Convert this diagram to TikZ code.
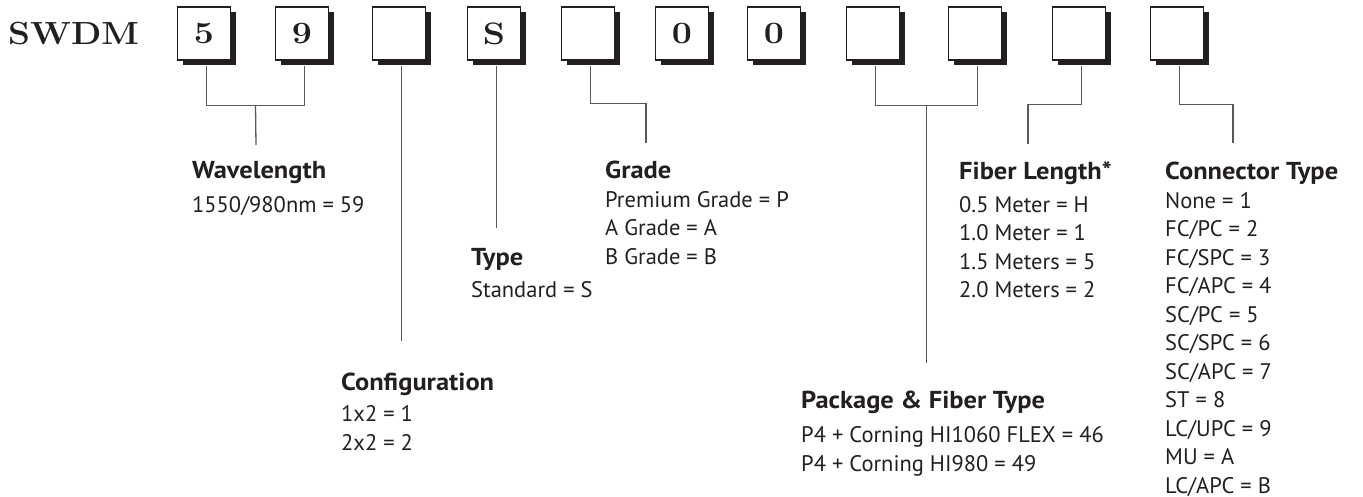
\documentclass[tikz,border=0pt]{standalone}
\usepackage{fontspec}
\usepackage{graphicx}
\usetikzlibrary{shadows,calc}
\newfontfamily\ptsans{PT Sans}
\definecolor{ink}{HTML}{231F20}
\definecolor{wire}{HTML}{58595B}
\newcommand\heading[1]{\rule{0pt}{17pt}\scalebox{1.08}[1]{\fontsize{24.5}{28.5}\selectfont\bfseries #1}}
\begin{document}
\begin{tikzpicture}[x=1pt,y=-1pt,
  digit/.style={draw=ink,line width=1.2pt,fill=white,minimum size=53pt,inner sep=0pt,
    text=ink,font=\bfseries\fontsize{31}{31}\selectfont,
    drop shadow={shadow xshift=5pt,shadow yshift=-5pt,opacity=1,fill=ink}},
  link/.style={draw=wire,line width=1.3pt},
  legend/.style={anchor=north west,inner sep=0pt,align=left,text=ink,
    font=\ptsans\fontsize{22.5}{28.5}\selectfont}]
\useasboundingbox (0,0) rectangle (1363,497);
\node[anchor=base west,inner sep=0pt,text=ink,font=\bfseries\fontsize{32}{32}\selectfont] (code) at (8,45) {\scalebox{1.1}[1]{SWDM}};
\foreach \n/\x/\c in {1/204/5,2/302/9,3/399/{},4/494/S,5/588/{},6/682/0,7/774/0,8/873/{},9/975/{},10/1079/{},11/1177/{}}{
  \node[digit] (b\n) at (\x,33.5) {\scalebox{1.15}[1]{\c}};
  \coordinate (b\n-s) at ([shift={(2.5,5)}]b\n.south);
}
\node[legend] (wl) at (192,161) {\heading{Wavelength}\\[5.5pt]1550/980nm = 59};
\node[legend] (cf) at (341,373) {\heading{Configuration}\\[2.5pt]1x2 = 1\\2x2 = 2};
\node[legend] (ty) at (471,248) {\heading{Type}\\[3.5pt]Standard = S};
\node[legend] (gr) at (605,161) {\heading{Grade}\\Premium Grade = P\\A Grade = A\\B Grade = B};
\node[legend] (pk) at (801,391) {\heading{Package \& Fiber Type}\\[5.5pt]P4 + Corning HI1060 FLEX = 46\\P4 + Corning HI980 = 49};
\node[legend] (fl) at (959,161) {\heading{Fiber Length*}\\[4.5pt]0.5 Meter = H\\1.0 Meter = 1\\1.5 Meters = 5\\2.0 Meters = 2};
\node[legend] (ct) at (1165,162) {\heading{Connector Type}\\None = 1\\FC/PC = 2\\FC/SPC = 3\\FC/APC = 4\\SC/PC = 5\\SC/SPC = 6\\SC/APC = 7\\ST = 8\\LC/UPC = 9\\MU = A\\LC/APC = B};
\coordinate (wl-end) at (256,145);
\coordinate (cf-end) at (401.5,341);
\coordinate (ty-end) at (496.5,228);
\coordinate (gr-end) at (646,143);
\coordinate (pk-end) at (926.5,363);
\coordinate (fl-end) at (1028,144);
\coordinate (ct-end) at (1233,143);
\draw[link] (b1-s) -- ++(0,40) -| (b2-s);
\draw[link] ($(b1-s)!.5!(b2-s)+(0,40)$) -- (wl-end);
\draw[link] (b3-s) -- (cf-end);
\draw[link] (b4-s) -- (ty-end);
\draw[link] (b5-s) -- ++(0,38) -| (gr-end);
\draw[link] (b8-s) -- ++(0,40) -| (b9-s);
\draw[link] ($(b8-s)!.5!(b9-s)+(0,40)$) -- (pk-end);
\draw[link] (b10-s) -- ++(0,39) -| (fl-end);
\draw[link] (b11-s) -- ++(0,39) -| (ct-end);
\end{tikzpicture}
\end{document}
